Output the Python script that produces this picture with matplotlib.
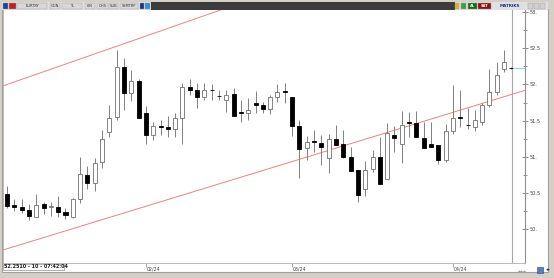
import matplotlib
matplotlib.use("Agg")
import matplotlib.pyplot as plt
from matplotlib.patches import Rectangle
from matplotlib.transforms import blended_transform_factory

# daily candles EUR/TRY (open, high, low, close)
opens = [50.48, 50.33, 50.30, 50.26, 50.17, 50.34, 50.30, 50.30, 50.24, 50.16,
         50.41, 50.75, 50.63, 50.93, 51.34, 51.55, 52.24, 51.88, 52.05, 51.60,
         51.30, 51.43, 51.41, 51.38, 51.54, 51.96, 51.92, 51.82, 51.92, 51.84,
         51.79, 51.87, 51.61, 51.61, 51.74, 51.71, 51.66, 51.83, 51.90, 51.82,
         51.42, 51.12, 51.21, 51.19, 50.98, 51.24, 51.17, 51.00, 50.81, 50.56,
         50.83, 51.00, 50.69, 51.30, 51.18, 51.47, 51.46, 51.26, 51.17, 51.16,
         50.96, 51.35, 51.54, 51.44, 51.41, 51.48, 51.71, 51.90, 52.22, 52.23]
highs = [50.60, 50.41, 50.41, 50.35, 50.48, 50.38, 50.37, 50.45, 50.29, 50.43,
         50.99, 50.87, 50.98, 51.37, 51.71, 52.47, 52.36, 52.20, 52.08, 51.70,
         51.48, 51.51, 51.57, 51.61, 52.02, 52.08, 52.02, 52.02, 52.01, 51.93,
         51.92, 51.95, 51.78, 51.81, 51.91, 51.76, 51.85, 52.01, 52.02, 51.83,
         51.51, 51.29, 51.37, 51.30, 51.31, 51.44, 51.37, 51.13, 50.81, 50.94,
         51.09, 51.28, 51.46, 51.43, 51.63, 51.62, 51.63, 51.48, 51.48, 51.16,
         51.45, 51.99, 51.93, 51.67, 51.64, 51.74, 52.21, 52.31, 52.47, 52.24]
lows = [50.29, 50.25, 50.22, 50.12, 50.16, 50.21, 50.18, 50.17, 50.14, 50.15,
        50.36, 50.55, 50.52, 50.85, 51.27, 51.51, 51.65, 51.77, 51.53, 51.18,
        51.23, 51.30, 51.28, 51.27, 51.18, 51.85, 51.67, 51.79, 51.79, 51.78,
        51.62, 51.56, 51.48, 51.51, 51.61, 51.60, 51.59, 51.76, 51.74, 51.29,
        50.71, 50.95, 51.07, 50.88, 50.77, 51.16, 50.98, 50.80, 50.38, 50.45,
        50.79, 50.62, 50.69, 51.07, 50.92, 51.28, 51.27, 51.12, 51.14, 50.90,
        50.93, 51.32, 51.41, 51.39, 51.36, 51.44, 51.69, 51.85, 52.17, 52.22]
closes = [50.32, 50.30, 50.27, 50.18, 50.33, 50.29, 50.32, 50.24, 50.20, 50.41,
          50.76, 50.63, 50.92, 51.25, 51.54, 52.24, 51.88, 52.05, 51.54, 51.30,
          51.43, 51.41, 51.38, 51.54, 51.96, 51.92, 51.83, 51.92, 51.92, 51.84,
          51.85, 51.56, 51.61, 51.65, 51.71, 51.66, 51.82, 51.90, 51.90, 51.42,
          51.11, 51.21, 51.21, 51.14, 51.24, 51.16, 50.99, 50.80, 50.47, 50.82,
          51.00, 50.62, 51.33, 51.26, 51.44, 51.47, 51.27, 51.12, 51.14, 50.96,
          51.36, 51.53, 51.54, 51.44, 51.51, 51.71, 51.90, 52.13, 52.31, 52.23]

month_idx = [19, 39, 61]
month_labels = ["02/24", "03/24", "04/24"]
y_ticks = [50.0, 50.5, 51.0, 51.5, 52.0, 52.5, 53.0]
y_labels = ["50.", "50.5", "51.", "51.5", "52.", "52.5", "53."]

# channel lines (bar index, price)
upper_x = [-0.55, 29.5]
upper_y = [51.98, 53.04]
lower_x = [-0.55, 70.9]
lower_y = [49.71, 51.92]

W, H = 554, 278


def fx(px):
    return px / W


def fy(py):
    return 1 - py / H


def fig_box(x0, y0, x1, y1, **kw):
    # rectangle in pixel coords (top-left origin)
    r = Rectangle((fx(x0), fy(y1)), fx(x1) - fx(x0), fy(y0) - fy(y1),
                  transform=fig.transFigure, **kw)
    fig.add_artist(r)
    return r


fig = plt.figure(figsize=(W / 100, H / 100), dpi=100, facecolor="#d4d0c8")

# white chart panel + frame, behind the axes
fig_box(2, 9, 548, 272, facecolor="white", edgecolor="#a0a0a0", lw=0.8, zorder=-5)

ax = fig.add_axes([fx(3), fy(263), fx(525) - fx(3), fy(10) - fy(263)])
ax.set_facecolor("white")
ax.set_xlim(-0.55, 70.86)
ax.set_ylim(49.53, 53.03)

# candles
for i in range(len(opens)):
    o, h, l, c = opens[i], highs[i], lows[i], closes[i]
    ax.vlines(i, l, h, color="#808080", lw=0.7, zorder=2)
    up = c > o
    ax.bar(i, max(abs(c - o), 0.004), bottom=min(o, c), width=0.55,
           facecolor="white" if up else "black",
           edgecolor="#707070" if up else "black", lw=0.6, zorder=3)

# channel
ax.plot(upper_x, upper_y, color="#f08080", lw=0.7, zorder=1)
ax.plot(lower_x, lower_y, color="#f08080", lw=0.7, zorder=1)

# cursor line and last price marker
ax.axvline(69.05, color="#a8a8a8", lw=0.8, zorder=1)
ax.hlines(closes[-1], 69.4, 70.86, color="#80dce6", lw=0.8, zorder=1)

# axes styling
ax.spines["top"].set_visible(False)
ax.spines["left"].set_color("#b0b0b0")
ax.spines["left"].set_linewidth(0.6)
ax.spines["right"].set_color("#909090")
ax.spines["right"].set_linewidth(0.8)
ax.spines["bottom"].set_color("#b0b0b0")
ax.spines["bottom"].set_linewidth(0.6)

ax.yaxis.tick_right()
ax.set_yticks(y_ticks)
ax.set_yticklabels(y_labels)
ax.set_yticks([v + 0.25 for v in y_ticks[:-1]], minor=True)
ax.tick_params(axis="y", which="major", direction="inout", length=4, width=0.5,
               color="#606060", labelsize=3.6, pad=1, labelcolor="#404040")
ax.tick_params(axis="y", which="minor", direction="inout", length=2.5, width=0.5,
               color="#606060")

ax.set_xticks(month_idx)
ax.set_xticklabels([])
ax.tick_params(axis="x", direction="out", length=3, width=0.5, color="#808080")
tr = blended_transform_factory(ax.transData, ax.transAxes)
for i, lab in zip(month_idx, month_labels):
    ax.text(i + 0.15, -0.012, lab, transform=tr, fontsize=3.4, color="#404040",
            ha="left", va="top")

# status box bottom-left
fig_box(3, 263.5, 64, 270, facecolor="white", edgecolor="#909090", lw=0.5)
fig.text(fx(4), fy(266.8), "52.2510 - 10 - 07:42:04", fontsize=3.5,
         fontweight="bold", color="#202020", va="center", ha="left")

# toolbar
fig_box(2, 2.5, 548, 9.5, facecolor="#e0e0e0", edgecolor="none")
fig_box(151, 2.5, 455, 9.5, facecolor="#3c3c3c", edgecolor="none")
boxes = [(3, 8, ""), (9, 16, ""), (17, 47, "EURTRY"), (50, 60, "GUN"),
         (62, 82, "TL"), (85, 95, "LIN"), (97, 108, "OHS"), (109, 118, "SUB"),
         (120, 138, "SYMTRP"), (140, 144, ""), (145, 150, "")]
box_colors = ["#2040a0", "#c02020", "#d8d8d8", "#d8d8d8", "#d8d8d8", "#d8d8d8",
              "#d8d8d8", "#d8d8d8", "#d8d8d8", "#203080", "#3090e0"]
for (x0, x1, t), col in zip(boxes, box_colors):
    fig_box(x0, 3.3, x1, 8.7, facecolor=col, edgecolor="#a0a0a0", lw=0.3)
    if t:
        fig.text(fx((x0 + x1) / 2), fy(6), t, fontsize=2.6, color="#303030",
                 ha="center", va="center")

right_boxes = [(455, 459, "", "#e0b020"), (461, 466, "", "#40a040"),
               (468, 477, "AL", "#107010"), (478, 491, "SAT", "#901010"),
               (528, 533, "", "#d0d0d0"), (534, 539, "", "#d0d0d0"),
               (540, 545, "", "#d0d0d0")]
for x0, x1, t, col in right_boxes:
    fig_box(x0, 3.3, x1, 8.7, facecolor=col, edgecolor="#a0a0a0", lw=0.3)
    if t:
        fig.text(fx((x0 + x1) / 2), fy(6), t, fontsize=2.6, color="white",
                 ha="center", va="center", fontweight="bold")
fig.text(fx(510), fy(6), "MATRIKS", fontsize=3.0, color="#203080",
         ha="center", va="center", fontweight="bold")

# bottom-right navigation icons
fig_box(537, 267, 543, 273, facecolor="#5080c0", edgecolor="#304070", lw=0.4)
fig.text(fx(548), fy(270), "◂▸", fontsize=3.5, color="#203060",
         ha="center", va="center")
fig.text(fx(522), fy(271), "⊥⊥⊥", fontsize=2.5, color="#606060",
         ha="center", va="center")

fig.savefig("out.png", dpi=100, facecolor=fig.get_facecolor())
